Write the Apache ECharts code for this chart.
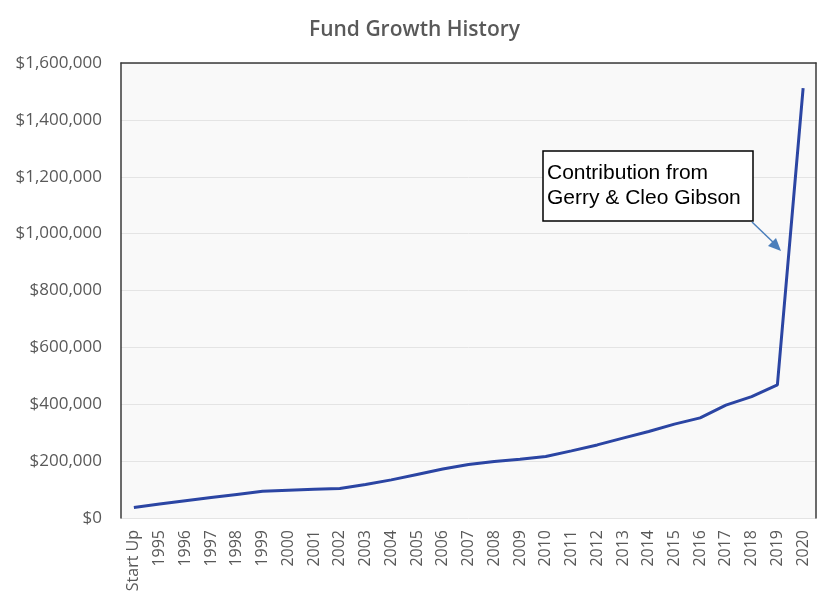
<!DOCTYPE html>
<html>
<head>
<meta charset="utf-8">
<script src="https://cdn.jsdelivr.net/npm/echarts@6/dist/echarts.min.js"></script>
<style>
html,body{margin:0;padding:0;background:#fff;}
#chart{width:829px;height:600px;}
</style>
</head>
<body>
<div id="chart"></div>
<script>
const categories = ['Start Up','1995','1996','1997','1998','1999','2000','2001','2002','2003','2004','2005','2006','2007','2008','2009','2010','2011','2012','2013','2014','2015','2016','2017','2018','2019','2020'];
const fundValues = [37000,49000,61000,72000,83000,94000,98000,101000,104000,118000,134000,153000,172000,188000,199000,207000,216000,236000,257000,281000,304000,330000,352000,397000,427000,468000,1512000];
const yTickValues = [0,200000,400000,600000,800000,1000000,1200000,1400000,1600000];
const titleText = 'Fund Growth History';
const noteLines = ['Contribution from', 'Gerry & Cleo Gibson'];

const chart = echarts.init(document.getElementById('chart'));
const fmt = v => '$' + Number(v).toLocaleString('en-US');
const grey = '#595959';
const font = 'Open Sans';

chart.setOption({
  animation: false,
  backgroundColor: '#ffffff',
  title: {
    text: titleText,
    left: 'center',
    top: 15,
    textStyle: { fontFamily: font, fontSize: 21, fontWeight: 600, color: grey }
  },
  grid: [{ left: 121, right: 13, top: 63, bottom: 82, show: true, backgroundColor: '#f9f9f9', borderWidth: 0 }],
  xAxis: [{
    type: 'category',
    data: categories,
    boundaryGap: true,
    axisLine: { show: false },
    axisTick: { show: false },
    axisLabel: { rotate: 90, interval: 0, margin: 12, fontFamily: font, fontSize: 16, color: grey }
  }, {
    type: 'category',
    data: categories,
    position: 'top',
    axisLine: { show: true, onZero: false, lineStyle: { color: '#3a3a3a', width: 1.5 } },
    axisTick: { show: false },
    axisLabel: { show: false }
  }],
  yAxis: [{
    type: 'value',
    min: 0,
    max: yTickValues[yTickValues.length - 1],
    interval: yTickValues[1] - yTickValues[0],
    axisLine: { show: true, onZero: false, lineStyle: { color: '#3a3a3a', width: 1.5 } },
    axisTick: { show: false },
    splitLine: { show: true, lineStyle: { color: '#e4e4e4', width: 1 } },
    axisLabel: { margin: 19, fontFamily: font, fontSize: 17, color: grey, formatter: fmt }
  }, {
    type: 'value',
    position: 'right',
    min: 0,
    max: yTickValues[yTickValues.length - 1],
    interval: yTickValues[1] - yTickValues[0],
    axisLine: { show: true, onZero: false, lineStyle: { color: '#3a3a3a', width: 1.5 } },
    axisTick: { show: false },
    splitLine: { show: false },
    axisLabel: { show: false }
  }],
  series: [{
    type: 'line',
    data: fundValues,
    xAxisIndex: 0,
    yAxisIndex: 0,
    symbol: 'none',
    lineStyle: { color: '#2b45a3', width: 3 },
    z: 3
  }],
  graphic: [
    { type: 'rect', shape: { x: 543, y: 151, width: 210, height: 70 }, style: { fill: '#ffffff', stroke: '#000000', lineWidth: 1.5 }, z: 10 },
    { type: 'text', left: 547, top: 161, style: { text: noteLines.join('\n'), font: '21px "Liberation Sans", Arial, sans-serif', fill: '#000000', lineHeight: 25 }, z: 11 },
    { type: 'line', shape: { x1: 752, y1: 222, x2: 776, y2: 245 }, style: { stroke: '#4a7ebb', lineWidth: 1.5 }, z: 11 },
    { type: 'polygon', shape: { points: [[781, 251], [768, 246], [776, 238]] }, style: { fill: '#4a7ebb' }, z: 11 }
  ]
});
</script>
</body>
</html>
